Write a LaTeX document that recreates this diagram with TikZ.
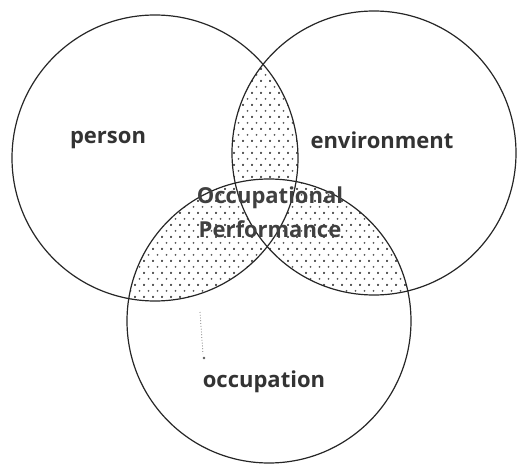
\documentclass[tikz,border=0pt]{standalone}
\usepackage{fontspec}
\setmainfont{Open Sans}
\usetikzlibrary{positioning, patterns}

\pgfdeclarepatternformonly{venndots}{\pgfqpoint{-1pt}{-1pt}}{\pgfqpoint{10pt}{13pt}}{\pgfqpoint{9pt}{12pt}}{%
  \pgfpathcircle{\pgfqpoint{0pt}{0pt}}{1pt}%
  \pgfpathcircle{\pgfqpoint{4.5pt}{6pt}}{1pt}%
  \pgfpathcircle{\pgfqpoint{9pt}{0pt}}{1pt}%
  \pgfpathcircle{\pgfqpoint{0pt}{12pt}}{1pt}%
  \pgfpathcircle{\pgfqpoint{9pt}{12pt}}{1pt}%
  \pgfusepath{fill}}

\tikzset{
  venn line/.style={draw=black!85, line width=1.2pt},
  venn dots/.style={pattern=venndots, pattern color=black!65},
  set label/.style={font=\bfseries\fontsize{22}{26}\selectfont, text=black!80, inner sep=0pt},
  core label/.style={font=\bfseries\fontsize{22}{34}\selectfont, text=black!75, align=center, inner sep=0pt}
}

\def\personC{(155,158) circle (143pt)}
\def\environC{(374,153) circle (142pt)}
\def\occupC{(269,321) circle (142pt)}

\begin{document}
\begin{tikzpicture}[x=1pt, y=-1pt]
  \useasboundingbox (0,0) rectangle (517,465);
  % shaded overlaps of two circles
  \begin{scope}
    \clip \personC; \clip \environC;
    \fill[venn dots] (0,0) rectangle (517,465);
  \end{scope}
  \begin{scope}
    \clip \personC; \clip \occupC;
    \fill[venn dots] (0,0) rectangle (517,465);
  \end{scope}
  \begin{scope}
    \clip \environC; \clip \occupC;
    \fill[venn dots] (0,0) rectangle (517,465);
  \end{scope}
  % centre left blank
  \begin{scope}
    \clip \personC; \clip \environC;
    \fill[white] \occupC;
  \end{scope}
  % circles
  \draw[venn line] \personC;
  \draw[venn line] \environC;
  \draw[venn line] \occupC;
  % stray pencil mark
  \coordinate (marktop) at (200,312);
  \coordinate (markend) at (203,354);
  \draw[black!55, dotted, line width=0.8pt] (marktop) -- (markend);
  \fill[black!65] (markend) ++(1,4) circle (1.3pt);
  % labels
  \node[set label] (person) at (108,140) {person};
  \node[set label] (environment) at (382,140) {environment};
  \node[core label] (performance) at (270,212) {Occupational\\Performance};
  \node[set label] (occupation) at (264,382) {occupation};
\end{tikzpicture}
\end{document}
